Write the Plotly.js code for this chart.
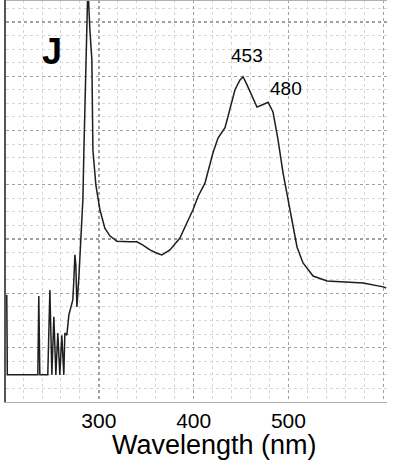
<!DOCTYPE html>
<html>
<head>
<meta charset="utf-8">
<script src="https://cdn.plot.ly/plotly-3.0.1.min.js"></script>
<style>
  html, body { margin: 0; padding: 0; background: #fff; }
  #chart { width: 393px; height: 476px; }
</style>
</head>
<body>
<div id="chart"></div>
<script>
// Wavelength (nm)
const wavelength = [202.8, 203.4, 235.6, 236.6, 237.7, 246.1, 248.3, 250.4, 252.5, 254.6,
  256.7, 258.8, 260.9, 263.0, 264.1, 266.2, 268.3, 270.4, 272.5, 273.6,
  274.7, 275.7, 276.8, 278.9, 281.0, 283.1, 284.2, 286.3, 288.4, 290.5,
  292.6, 293.7, 296.8, 301.1, 306.3, 311.6, 319.0, 332.7, 340.1, 346.5,
  353.9, 361.2, 366.5, 375.0, 385.5, 392.9, 399.3, 404.5, 411.9, 420.4,
  425.7, 433.1, 438.3, 443.6, 448.9, 452.1, 456.3, 461.6, 466.8, 472.1,
  478.5, 483.7, 489.0, 494.3, 499.6, 503.8, 509.1, 515.4, 526.0, 540.8,
  557.7, 578.8, 599.9, 603.1];
// Signal (arbitrary units, grid units)
const signal = [1.97, 0.50, 0.50, 1.95, 0.50, 0.50, 2.06, 0.50, 1.57, 0.50,
  1.27, 0.50, 1.23, 0.50, 1.27, 1.23, 1.60, 1.75, 1.88, 2.25,
  2.71, 2.52, 1.75, 2.30, 2.98, 3.72, 4.64, 6.30, 7.68, 6.85,
  6.30, 4.64, 4.00, 3.54, 3.20, 3.06, 2.96, 2.95, 2.95, 2.89,
  2.80, 2.74, 2.71, 2.80, 3.02, 3.30, 3.54, 3.78, 4.03, 4.59,
  4.86, 5.05, 5.38, 5.75, 5.93, 5.99, 5.84, 5.62, 5.43, 5.47,
  5.52, 5.34, 4.83, 4.22, 3.72, 3.30, 2.85, 2.56, 2.32, 2.23,
  2.21, 2.19, 2.12, 2.10];

const xTickVals = [300, 400, 500, 600];
const xTickText = ['300', '400', '500', ''];

const peakLabels = ['453', '480'];
const peakLabelX = [456.3, 497.5];
const peakLabelY = [6.39, 5.78];

const panelLabel = 'J';
const xTitle = 'Wavelength (nm)';

const FONT = "'Liberation Sans', Arial, Helvetica, sans-serif";

const trace = {
  x: wavelength,
  y: signal,
  type: 'scatter',
  mode: 'lines',
  line: { color: '#1e1e1e', width: 1.5 },
  hoverinfo: 'x+y'
};

const annotations = peakLabels.map((t, i) => ({
  x: peakLabelX[i], y: peakLabelY[i], xref: 'x', yref: 'y',
  text: t, showarrow: false,
  font: { family: FONT, size: 19, color: '#000' }
}));

annotations.push({
  x: 0.089, y: 0.928, xref: 'paper', yref: 'paper',
  text: '<b>' + panelLabel + '</b>', showarrow: false,
  font: { family: 'Arial, sans-serif', size: 36, color: '#000' }
});

annotations.push({
  x: 0.546, y: -0.108, xref: 'paper', yref: 'paper',
  xanchor: 'center', yanchor: 'middle',
  text: xTitle, showarrow: false,
  font: { family: FONT, size: 27, color: '#000' }
});

const layout = {
  width: 393,
  height: 476,
  margin: { l: 6, r: 6, t: 0, b: 74 },
  paper_bgcolor: '#fff',
  plot_bgcolor: '#fff',
  showlegend: false,
  font: { family: FONT, color: '#000' },
  xaxis: {
    range: [202, 604],
    tickmode: 'array',
    tickvals: xTickVals,
    ticktext: xTickText,
    ticks: '',
    showgrid: true,
    gridcolor: '#a0a0a0',
    gridwidth: 1.3,
    griddash: 'dot',
    zeroline: false,
    showline: true,
    linecolor: '#b0b0b0',
    linewidth: 1,
    tickfont: { family: FONT, size: 21, color: '#000' },
    ticklabelstandoff: 0,
    minor: { dtick: 20, tick0: 200, showgrid: true, gridcolor: '#d6d6d6', gridwidth: 1, griddash: 'dot', ticks: '' }
  },
  yaxis: {
    range: [0, 7.403],
    dtick: 1,
    tick0: 0,
    ticks: '',
    showticklabels: false,
    showgrid: true,
    gridcolor: '#a0a0a0',
    gridwidth: 1.3,
    griddash: 'dot',
    zeroline: false,
    showline: true,
    linecolor: '#555',
    linewidth: 2,
    minor: { dtick: 0.25, tick0: 0, showgrid: true, gridcolor: '#d6d6d6', gridwidth: 1, griddash: 'dot', ticks: '' }
  },
  shapes: [{
    type: 'line', xref: 'paper', yref: 'paper',
    x0: 0, x1: 1, y0: 1, y1: 1,
    line: { color: '#b0b0b0', width: 2 }
  }],
  annotations: annotations
};

Plotly.newPlot('chart', [trace], layout, { staticPlot: true, displayModeBar: false });
</script>
</body>
</html>
